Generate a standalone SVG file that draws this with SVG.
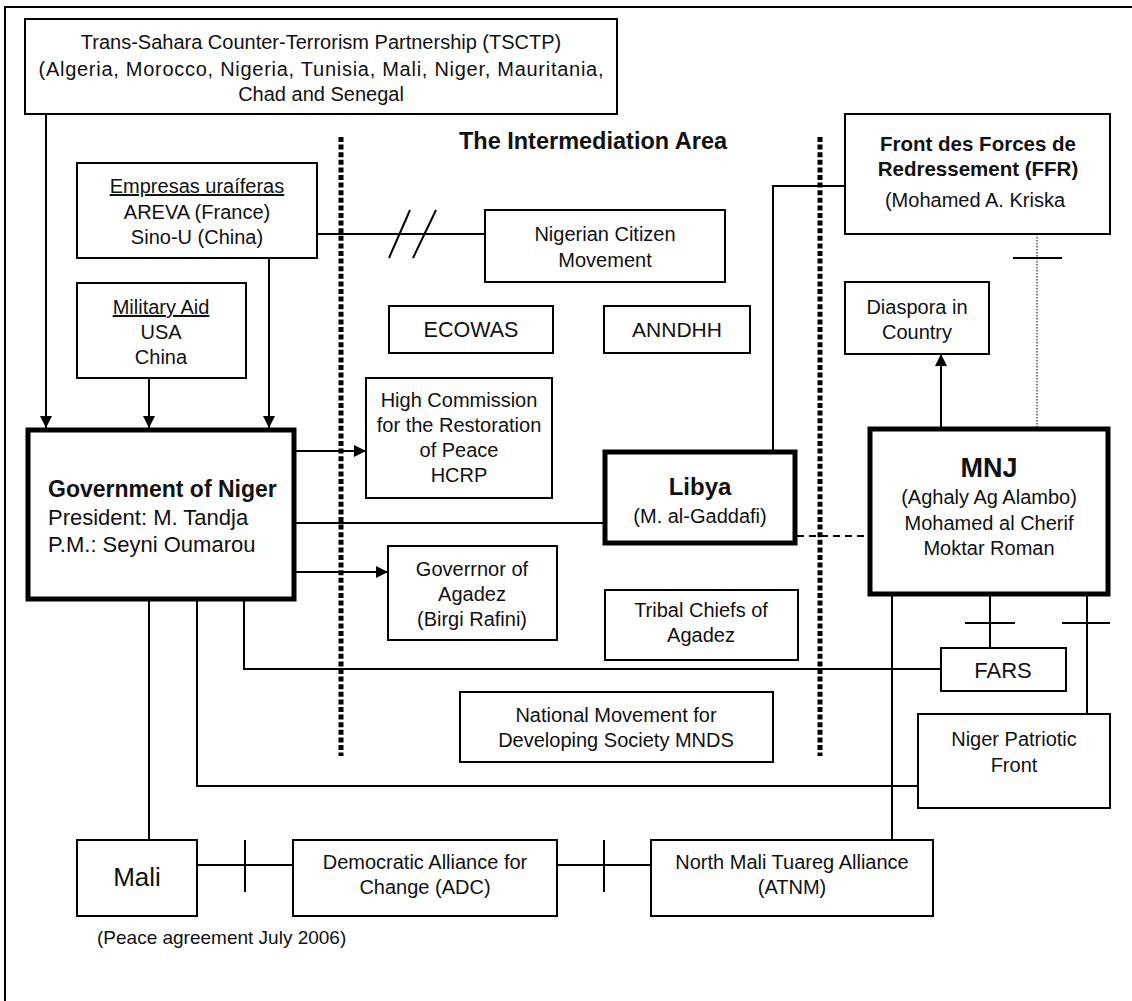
<svg xmlns="http://www.w3.org/2000/svg" width="1132" height="1001" viewBox="0 0 1132 1001">
  <style>
    .box { fill: #fff; stroke: #000; stroke-width: 2; }
    .heavy { fill: #fff; stroke: #000; stroke-width: 5; }
    .ln { fill: none; stroke: #000; stroke-width: 2; }
    .zone { fill: none; stroke: #000; stroke-width: 5; stroke-dasharray: 5 2.6; }
    .t { font-family: "Liberation Sans", Arial, sans-serif; font-size: 20px; fill: #111; text-anchor: middle; }
    .l { text-anchor: start; }
    .b { font-weight: bold; }
    .u { text-decoration: underline; }
  </style>
  <defs>
    <marker id="arrow" viewBox="0 0 12 12" refX="12" refY="6" markerWidth="12" markerHeight="12" markerUnits="userSpaceOnUse" orient="auto">
      <path d="M0,0 L12,6 L0,12 Z" fill="#000"/>
    </marker>
  </defs>

  <rect x="0" y="0" width="1132" height="1001" fill="#fff"/>
  <!-- page frame -->
  <path class="ln" d="M5,1001 V7 H1132"/>

  <!-- boundaries of the intermediation area -->
  <g id="zone">
    <line class="zone" x1="341" y1="137" x2="341" y2="756"/>
    <line class="zone" x1="820" y1="137" x2="820" y2="756"/>
    <text class="t b" x="593" y="149" style="font-size:23.5px">The Intermediation Area</text>
  </g>

  <g id="connectors">
    <!-- into the government -->
    <line class="ln" x1="46" y1="114" x2="46" y2="428" marker-end="url(#arrow)"/>
    <line class="ln" x1="149" y1="378" x2="149" y2="428" marker-end="url(#arrow)"/>
    <line class="ln" x1="269" y1="258" x2="269" y2="428" marker-end="url(#arrow)"/>
    <!-- uranium companies to citizen movement, broken -->
    <line class="ln" x1="317" y1="234" x2="485" y2="234"/>
    <line class="ln" x1="389" y1="258" x2="410" y2="210"/>
    <line class="ln" x1="413" y1="258" x2="436" y2="210"/>
    <!-- government outward -->
    <line class="ln" x1="296" y1="451" x2="366" y2="451" marker-end="url(#arrow)"/>
    <line class="ln" x1="296" y1="523" x2="603" y2="523"/>
    <line class="ln" x1="296" y1="572" x2="388" y2="572" marker-end="url(#arrow)"/>
    <path class="ln" d="M244,601 V669 H941"/>
    <path class="ln" d="M197,601 V786 H918"/>
    <line class="ln" x1="149" y1="601" x2="149" y2="840"/>
    <!-- Libya -->
    <path class="ln" d="M845,186 H773 V450"/>
    <line class="ln" x1="797" y1="536" x2="868" y2="536" stroke-dasharray="7 5"/>
    <!-- FFR / MNJ -->
    <line x1="1037" y1="234" x2="1037" y2="427" stroke="#000" stroke-width="1" stroke-dasharray="1.5 1.5"/>
    <line class="ln" x1="1013" y1="258" x2="1062" y2="258"/>
    <line class="ln" x1="941" y1="427" x2="941" y2="354" marker-end="url(#arrow)"/>
    <!-- MNJ downward -->
    <line class="ln" x1="892" y1="596" x2="892" y2="840"/>
    <line class="ln" x1="990" y1="596" x2="990" y2="648"/>
    <line class="ln" x1="965" y1="623" x2="1015" y2="623"/>
    <line class="ln" x1="1087" y1="596" x2="1087" y2="714"/>
    <line class="ln" x1="1062" y1="623" x2="1110" y2="623"/>
    <!-- bottom row -->
    <line class="ln" x1="197" y1="865" x2="293" y2="865"/>
    <line class="ln" x1="245" y1="840" x2="245" y2="892"/>
    <line class="ln" x1="557" y1="865" x2="651" y2="865"/>
    <line class="ln" x1="604" y1="840" x2="604" y2="892"/>
  </g>

  <g id="tsctp">
    <rect class="box" x="25" y="19" width="592" height="95"/>
    <text class="t" x="321" y="49">Trans-Sahara Counter-Terrorism Partnership (TSCTP)</text>
    <text class="t" x="321" y="76" textLength="565">(Algeria, Morocco, Nigeria, Tunisia, Mali, Niger, Mauritania,</text>
    <text class="t" x="321" y="101">Chad and Senegal</text>
  </g>

  <g id="empresas">
    <rect class="box" x="77" y="163" width="240" height="95"/>
    <text class="t u" x="197" y="193">Empresas uraíferas</text>
    <text class="t" x="197" y="219">AREVA (France)</text>
    <text class="t" x="197" y="244">Sino-U (China)</text>
  </g>

  <g id="military-aid">
    <rect class="box" x="77" y="283" width="169" height="95"/>
    <text class="t u" x="161" y="314">Military Aid</text>
    <text class="t" x="161" y="339">USA</text>
    <text class="t" x="161" y="364">China</text>
  </g>

  <g id="citizen-movement">
    <rect class="box" x="485" y="210" width="240" height="72"/>
    <text class="t" x="605" y="241">Nigerian Citizen</text>
    <text class="t" x="605" y="267">Movement</text>
  </g>

  <g id="ecowas">
    <rect class="box" x="389" y="306" width="164" height="47"/>
    <text class="t" x="471" y="337" style="font-size:21.5px">ECOWAS</text>
  </g>

  <g id="anndhh">
    <rect class="box" x="604" y="306" width="146" height="47"/>
    <text class="t" x="677" y="337" style="font-size:21px">ANNDHH</text>
  </g>

  <g id="hcrp">
    <rect class="box" x="366" y="378" width="186" height="120"/>
    <text class="t" x="459" y="407">High Commission</text>
    <text class="t" x="459" y="432">for the Restoration</text>
    <text class="t" x="459" y="457">of Peace</text>
    <text class="t" x="459" y="482">HCRP</text>
  </g>

  <g id="government">
    <rect class="heavy" x="28" y="430" width="266" height="169"/>
    <text class="t b l" x="48" y="497" style="font-size:23px">Government of Niger</text>
    <text class="t l" x="48" y="525" style="font-size:22px">President: M. Tandja</text>
    <text class="t l" x="48" y="552" style="font-size:22px">P.M.: Seyni Oumarou</text>
  </g>

  <g id="governor">
    <rect class="box" x="388" y="546" width="169" height="94"/>
    <text class="t" x="472" y="576">Goverrnor of</text>
    <text class="t" x="472" y="601">Agadez</text>
    <text class="t" x="472" y="626">(Birgi Rafini)</text>
  </g>

  <g id="libya">
    <rect class="heavy" x="605" y="452" width="190" height="91"/>
    <text class="t b" x="700" y="495" style="font-size:24px">Libya</text>
    <text class="t" x="700" y="523">(M. al-Gaddafi)</text>
  </g>

  <g id="tribal-chiefs">
    <rect class="box" x="605" y="590" width="193" height="70"/>
    <text class="t" x="701" y="617">Tribal Chiefs of</text>
    <text class="t" x="701" y="642">Agadez</text>
  </g>

  <g id="ffr">
    <rect class="box" x="845" y="114" width="265" height="120"/>
    <text class="t b" x="978" y="151" style="font-size:20.5px">Front des Forces de</text>
    <text class="t b" x="978" y="176" style="font-size:20.5px">Redressement (FFR)</text>
    <text class="t" x="975" y="207">(Mohamed A. Kriska</text>
  </g>

  <g id="diaspora">
    <rect class="box" x="845" y="282" width="144" height="72"/>
    <text class="t" x="917" y="314">Diaspora in</text>
    <text class="t" x="917" y="339">Country</text>
  </g>

  <g id="mnj">
    <rect class="heavy" x="870" y="429" width="238" height="165"/>
    <text class="t b" x="989" y="477" style="font-size:27px">MNJ</text>
    <text class="t" x="989" y="504">(Aghaly Ag Alambo)</text>
    <text class="t" x="989" y="530">Mohamed al Cherif</text>
    <text class="t" x="989" y="555">Moktar Roman</text>
  </g>

  <g id="fars">
    <rect class="box" x="941" y="648" width="125" height="43"/>
    <text class="t" x="1003" y="678" style="font-size:22px">FARS</text>
  </g>

  <g id="mnds">
    <rect class="box" x="460" y="692" width="313" height="70"/>
    <text class="t" x="616" y="722">National Movement for</text>
    <text class="t" x="616" y="747">Developing Society MNDS</text>
  </g>

  <g id="patriotic-front">
    <rect class="box" x="918" y="714" width="192" height="94"/>
    <text class="t" x="1014" y="746">Niger Patriotic</text>
    <text class="t" x="1014" y="772">Front</text>
  </g>

  <g id="mali">
    <rect class="box" x="77" y="840" width="120" height="76"/>
    <text class="t" x="137" y="886" style="font-size:26px">Mali</text>
  </g>

  <g id="adc">
    <rect class="box" x="293" y="840" width="264" height="76"/>
    <text class="t" x="425" y="869">Democratic Alliance for</text>
    <text class="t" x="425" y="894">Change (ADC)</text>
  </g>

  <g id="atnm">
    <rect class="box" x="651" y="840" width="282" height="76"/>
    <text class="t" x="792" y="869">North Mali Tuareg Alliance</text>
    <text class="t" x="792" y="894">(ATNM)</text>
  </g>

  <text class="t l" x="97" y="944" style="font-size:19px">(Peace agreement July 2006)</text>
</svg>
